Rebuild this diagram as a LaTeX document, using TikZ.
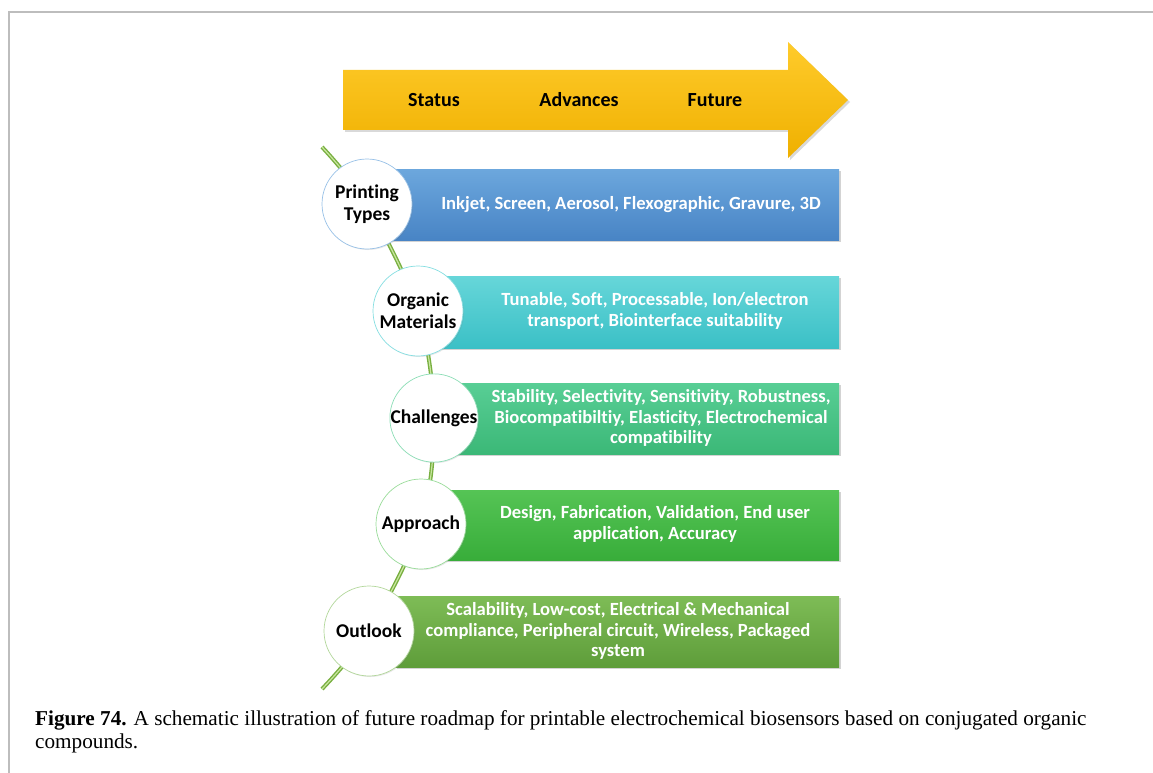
\documentclass[tikz,border=0pt]{standalone}
\usepackage{fontspec}
\setmainfont{Liberation Serif}
\newfontfamily\carl[Ligatures={NoCommon,NoContextual}]{Carlito}
\usetikzlibrary{shadows}
\definecolor{arrowtop}{HTML}{FFCB2B}
\definecolor{arrowbot}{HTML}{EFB000}
\definecolor{b1top}{HTML}{6CA7DD}
\definecolor{b1bot}{HTML}{4884C5}
\definecolor{b2top}{HTML}{66D6D9}
\definecolor{b2bot}{HTML}{3BC0C6}
\definecolor{b3top}{HTML}{58CE95}
\definecolor{b3bot}{HTML}{3BB877}
\definecolor{b4top}{HTML}{55C455}
\definecolor{b4bot}{HTML}{38AD3A}
\definecolor{b5top}{HTML}{7EBC56}
\definecolor{b5bot}{HTML}{5E9D3A}
\definecolor{spineout}{HTML}{78AF40}
\definecolor{spinein}{HTML}{C9E6A0}
\definecolor{framegray}{HTML}{BDBDBD}
\begin{document}
\begin{tikzpicture}[x=1pt,y=-1pt,
  panel/.style={draw=none, anchor=north west, inner sep=0pt,
    drop shadow={opacity=0.35, shadow xshift=2pt, shadow yshift=-2pt}},
  bubble/.style={circle, fill=white, draw=#1, line width=0.7pt, minimum size=90pt,
    inner sep=0pt, align=center, font=\carl\bfseries\fontsize{19.5}{22}\selectfont,
    drop shadow={opacity=0.18, shadow xshift=1pt, shadow yshift=-1pt}},
  bodytext/.style={text=white, align=center, inner sep=0pt,
    font=\carl\bfseries\fontsize{18.6}{20.8}\selectfont},
  arrowlabel/.style={text=black, inner sep=0pt, font=\carl\bfseries\fontsize{20}{24}\selectfont},
  captext/.style={anchor=base west, inner sep=0pt, font=\fontsize{21.2}{23}\selectfont}]
\useasboundingbox (0,0) rectangle (1153,773);
% frame
\draw[framegray, line width=2pt] (8.5,773) -- (8.5,12.5) -- (1153,12.5);

% big arrow
\path[top color=arrowtop, bottom color=arrowbot,
  drop shadow={opacity=0.3, shadow xshift=2pt, shadow yshift=-2pt}]
  (343,70) -- (788,70) -- (788,42) -- (848,100) -- (788,158) -- (788,130) -- (343,130) -- cycle;
\node[arrowlabel] (status) at (434,100) {Status};
\node[arrowlabel] (adv) at (579,100) {Advances};
\node[arrowlabel] (fut) at (715,100) {Future};

% panels
\node[panel, top color=b1top, bottom color=b1bot, minimum width=449pt, minimum height=71pt] (p1) at (390,169) {};
\node[panel, top color=b2top, bottom color=b2bot, minimum width=399pt, minimum height=72pt] (p2) at (440,276) {};
\node[panel, top color=b3top, bottom color=b3bot, minimum width=389pt, minimum height=71pt] (p3) at (450,383) {};
\node[panel, top color=b4top, bottom color=b4bot, minimum width=399pt, minimum height=70pt] (p4) at (440,490) {};
\node[panel, top color=b5top, bottom color=b5bot, minimum width=444pt, minimum height=71pt] (p5) at (395,596) {};

\node[bodytext] (t1) at (631,205) {Inkjet, Screen, Aerosol, Flexographic, Gravure, 3D};
\node[bodytext] (t2) at (655,311) {Tunable, Soft, Processable, Ion/electron\\transport, Biointerface suitability};
\node[bodytext] (t3) at (661,418) {Stability, Selectivity, Sensitivity, Robustness,\\Biocompatibiltiy, Elasticity, Electrochemical\\compatibility};
\node[bodytext] (t4) at (655,524) {Design, Fabrication, Validation, End user\\application, Accuracy};
\node[bodytext] (t5) at (618,631) {Scalability, Low-cost, Electrical \& Mechanical\\compliance, Peripheral circuit, Wireless, Packaged\\system};

% spine
\coordinate (s0) at (322,147);
\coordinate (s1) at (322,689);
\coordinate (k1) at (367,204);
\coordinate (k2) at (418,311);
\coordinate (k3) at (434,418);
\coordinate (k4) at (421,524);
\coordinate (k5) at (369,631);
\draw[spineout, line width=4pt] plot[smooth, tension=0.55] coordinates {(s0) (k1) (k2) (k3) (k4) (k5) (s1)};
\draw[spinein, line width=1.2pt] plot[smooth, tension=0.55] coordinates {(s0) (k1) (k2) (k3) (k4) (k5) (s1)};

% bubbles
\node[bubble=b1top!70!white] (c1) at (k1) {Printing\\Types};
\node[bubble=b2top!80!white] (c2) at (k2) {Organic\\Materials};
\node[bubble=b3top!70!white, minimum size=88pt] (c3) at (k3) {Challenges};
\node[bubble=b4top!60!white] (c4) at (k4) {Approach};
\node[bubble=b5top!60!white] (c5) at (k5) {Outlook};

% caption
\node[captext] (cap1) at (35,725) {\textbf{Figure 74.} A schematic illustration of future roadmap for printable electrochemical biosensors based on conjugated organic};
\node[captext] (cap2) at (35,748) {compounds.};
\end{tikzpicture}
\end{document}
